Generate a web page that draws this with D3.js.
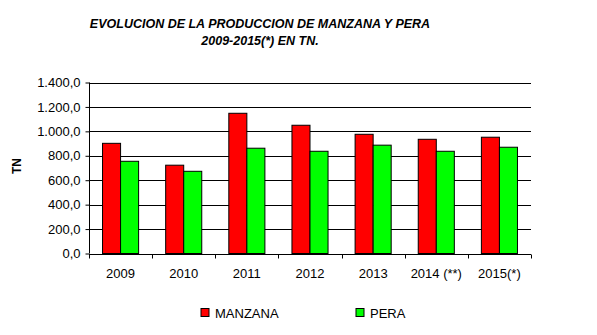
<!DOCTYPE html>
<html>
<head>
<meta charset="utf-8">
<script src="https://cdn.jsdelivr.net/npm/d3@7"></script>
<style>
  html, body { margin: 0; padding: 0; background: #fff; }
  svg { display: block; }
  text { font-family: Arial, "Liberation Sans", sans-serif; }
</style>
</head>
<body>
<svg id="chart" width="597" height="335"></svg>
<script>
const categories = ["2009", "2010", "2011", "2012", "2013", "2014 (**)", "2015(*)"];
const seriesNames = ["MANZANA", "PERA"];
const manzana = [902, 723, 1148, 1050, 976, 935, 952];
const pera = [755, 673, 862, 837, 887, 837, 870];
const yTicks = [0, 200, 400, 600, 800, 1000, 1200, 1400];
const colors = ["#ff0000", "#00ff00"];
const titleLines = ["EVOLUCION DE LA PRODUCCION DE MANZANA Y PERA", "2009-2015(*) EN TN."];
const yLabel = "TN";

const svg = d3.select("#chart");
const plotLeft = 89, plotRight = 531, plotTop = 82.5, plotBottom = 253.5;
const FS = 13;

const x = d3.scaleBand().domain(categories).range([plotLeft, plotRight]).paddingInner(0).paddingOuter(0);
const x1 = d3.scaleBand().domain(seriesNames).range([0, x.bandwidth()]).paddingInner(0).paddingOuter(0.75);
const y = d3.scaleLinear().domain([0, 1400]).range([plotBottom, plotTop]);

const fmt = v => {
  const s = d3.format(",.1f")(v);
  return s.replace(/,/g, "#").replace(".", ",").replace(/#/g, ".");
};

// gridlines
svg.append("g").selectAll("line").data(yTicks.filter(d => d > 0)).join("line")
  .attr("x1", plotLeft).attr("x2", plotRight)
  .attr("y1", d => Math.round(y(d)) + 0.5).attr("y2", d => Math.round(y(d)) + 0.5)
  .attr("stroke", "#000").attr("stroke-width", 1);

// bars
const data = categories.map((c, i) => ({ c, vals: [manzana[i], pera[i]] }));
const groups = svg.append("g").selectAll("g").data(data).join("g")
  .attr("transform", d => `translate(${x(d.c)},0)`);
groups.selectAll("rect").data(d => d.vals.map((v, j) => ({ v, s: seriesNames[j], j }))).join("rect")
  .attr("x", d => x1(d.s))
  .attr("y", d => y(d.v))
  .attr("width", x1.bandwidth())
  .attr("height", d => y(0) - y(d.v))
  .attr("fill", d => colors[d.j])
  .attr("stroke", "#000").attr("stroke-width", 1);

// y axis
const yAxis = d3.axisLeft(y).tickValues(yTicks).tickFormat(fmt).tickSize(4).tickPadding(5);
const gy = svg.append("g").attr("transform", `translate(${plotLeft + 0.5},0)`).call(yAxis);
gy.select(".domain").attr("d", `M0,${plotTop}V${plotBottom}`).attr("stroke", "#000");
gy.selectAll("text").attr("font-size", FS).attr("fill", "#000").attr("font-family", "Arial, 'Liberation Sans', sans-serif");
gy.selectAll(".tick line").attr("stroke", "#000");

// x axis
const xAxis = d3.axisBottom(x).tickSize(0).tickPadding(14);
const gx = svg.append("g").attr("transform", `translate(0,${Math.round(plotBottom) + 0.5})`).call(xAxis);
gx.select(".domain").attr("d", `M${plotLeft},0H${plotRight}`).attr("stroke", "#000");
gx.selectAll("text").attr("font-size", FS).attr("fill", "#000").attr("font-family", "Arial, 'Liberation Sans', sans-serif");
// category boundary ticks
gx.append("g").selectAll("line").data(categories.concat(["__end"])).join("line")
  .attr("x1", (d, i) => Math.round(i < categories.length ? x(d) : plotRight) + 0.5)
  .attr("x2", (d, i) => Math.round(i < categories.length ? x(d) : plotRight) + 0.5)
  .attr("y1", 0).attr("y2", 4).attr("stroke", "#000");

// title
svg.append("g").selectAll("text").data(titleLines).join("text")
  .attr("x", 260).attr("y", (d, i) => 28 + i * 17)
  .attr("text-anchor", "middle")
  .attr("font-size", 12.5).attr("font-weight", "bold").attr("font-style", "italic")
  .text(d => d);

// y label
svg.append("text")
  .attr("transform", "translate(21,166) rotate(-90)")
  .attr("text-anchor", "middle")
  .attr("font-size", 12).attr("font-weight", "bold")
  .text(yLabel);

// legend
const legendX = [201, 356];
const leg = svg.append("g").selectAll("g").data(seriesNames).join("g")
  .attr("transform", (d, i) => `translate(${legendX[i]},308.5)`);
leg.append("rect").attr("width", 8).attr("height", 8)
  .attr("fill", (d, i) => colors[i]).attr("stroke", "#000").attr("stroke-width", 1);
leg.append("text").attr("x", 14).attr("y", 9).attr("font-size", FS).text(d => d);
</script>
</body>
</html>
